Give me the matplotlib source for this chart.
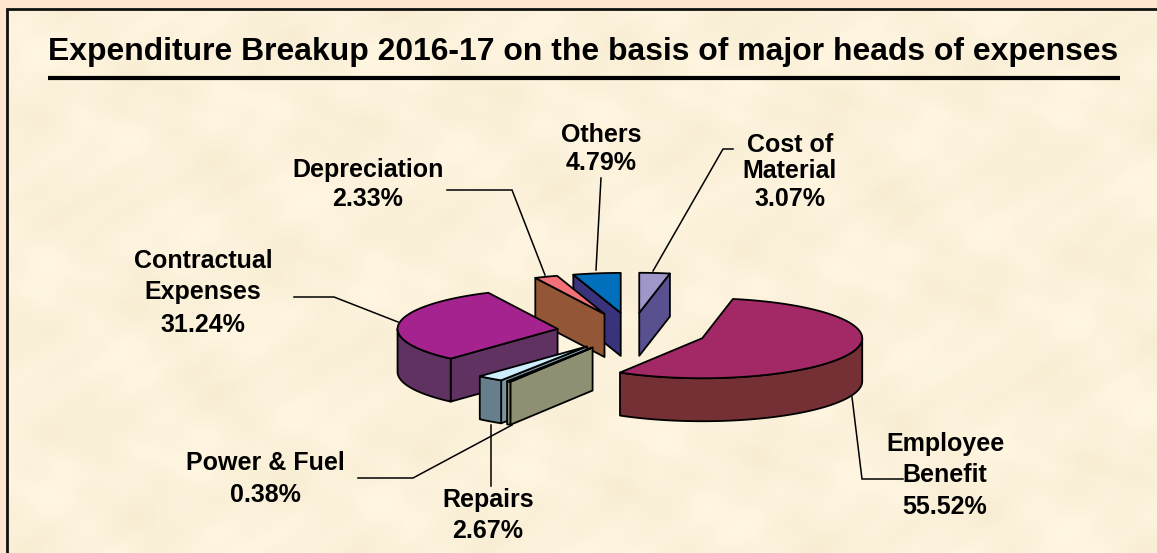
import numpy as np
import matplotlib
matplotlib.use('Agg')
import matplotlib.pyplot as plt

TITLE = "Expenditure Breakup 2016-17 on the basis of major heads of expenses"

# clockwise from 12 o'clock
names = ["Cost of\nMaterial", "Employee\nBenefit", "Power & Fuel", "Repairs",
         "Contractual\nExpenses", "Depreciation", "Others"]
shares = [3.07, 55.52, 0.38, 2.67, 31.24, 2.33, 4.79]

top_colors = ["#9F97C9", "#A32866", "#F6F1C4", "#CDEEFC", "#A4238E", "#F47077", "#0070BC"]
side_colors = ["#58508F", "#743035", "#8E8F73", "#667F8D", "#5F3262", "#935636", "#38337A"]
cut_colors = ["#58508F", "#743035", "#8E8F73", "#7A94A2", "#5F3262", "#935636", "#38337A"]

# back to front
draw_order = [0, 6, 5, 4, 3, 2, 1]

# pie layout, in pixels
CX, CY = 632, 331.5
RX, RY = 160, 40
DEPTH = 43
EXPLODE = 0.47

# label lines: centre x and y of each line
label_pos = [
    (790, [142, 169, 197]),
    (945, [442, 473, 505]),
    (265, [461, 493]),
    (488, [498, 528]),
    (203, [258, 289, 322]),
    (368, [167, 197]),
    (601, [133, 161]),
]
leaders = [
    [(733, 149), (723, 149), (653, 271)],
    [(852, 397), (862, 479), (903, 479)],
    [(358, 478), (413, 478), (512, 425)],
    [(491, 425), (491, 486)],
    [(294, 297), (334, 297), (398, 322)],
    [(447, 190), (512, 190), (545, 275)],
    [(601, 178), (596, 270)],
]


def rim(cx, cy, ang):
    a = np.radians(ang)
    return cx + RX * np.sin(a), cy - RY * np.cos(a)


def draw_slice(ax, a0, a1, top, side, cut):
    mid = (a0 + a1) / 2
    cx, cy = rim(CX, CY, mid)
    cx, cy = CX + EXPLODE * (cx - CX), CY + EXPLODE * (cy - CY)
    edge = dict(edgecolor='black', linewidth=1.3, joinstyle='round')

    # radial cut faces that look towards the viewer
    s0, s1 = np.sin(np.radians(a0)), np.sin(np.radians(a1))
    for ang, show in ((a0, s0 < -1e-6), (a1, s1 > 1e-6)):
        if show:
            x, y = rim(cx, cy, ang)
            ax.fill([cx, x, x, cx], [cy, y, y + DEPTH, cy + DEPTH], facecolor=cut, **edge)

    # outer wall, front half only
    lo, hi = max(a0, 90), min(a1, 270)
    if lo < hi:
        t = np.linspace(lo, hi, 80)
        x, y = rim(cx, cy, t)
        ax.fill(np.r_[x, x[::-1]], np.r_[y, y[::-1] + DEPTH], facecolor=side, **edge)

    t = np.linspace(a0, a1, 120)
    x, y = rim(cx, cy, t)
    ax.fill(np.r_[cx, x], np.r_[cy, y], facecolor=top, **edge)


def parchment():
    # soft mottling for the panel background
    yy, xx = np.mgrid[0:544, 0:1150]
    m = (np.sin(xx / 37 + yy / 71) * np.sin(yy / 23 - xx / 90)
         + 0.6 * np.sin(xx / 13 + 2 * np.sin(yy / 29)) * np.sin(yy / 11 + xx / 53))
    base = np.array([252, 242, 219], dtype=float)
    tint = np.array([2.5, 3.0, 5.0])
    return (np.clip(base + m[..., None] * tint, 0, 255)) / 255


def main():
    fig = plt.figure(figsize=(11.57, 5.53), dpi=100, facecolor='#FDE5D0')
    ax = fig.add_axes([0, 0, 1, 1])

    ax.imshow(parchment(), extent=(7, 1157, 553, 9), aspect='auto', interpolation='bilinear')
    ax.set_xlim(0, 1157)
    ax.set_ylim(553, 0)
    ax.axis('off')

    # panel border
    ax.plot([1157, 7, 7], [9, 9, 553], color='#111111', linewidth=2, solid_joinstyle='miter')

    ax.text(48, 60, TITLE, fontsize=22.95, fontweight='bold', family='Liberation Sans',
            ha='left', va='baseline', color='black')
    ax.plot([48, 1120], [78, 78], color='black', linewidth=3, solid_capstyle='butt')

    edges = np.r_[0, np.cumsum(shares)] * 3.6 / (sum(shares) / 100)
    for i in draw_order:
        draw_slice(ax, edges[i], edges[i + 1], top_colors[i], side_colors[i], cut_colors[i])

    for pts in leaders:
        xs, ys = zip(*pts)
        ax.plot(xs, ys, color='black', linewidth=1.1, solid_joinstyle='miter')

    for name, share, (x, ys) in zip(names, shares, label_pos):
        lines = name.split("\n") + [f"{share:.2f}%"]
        for line, y in zip(lines, ys):
            ax.text(x, y, line, fontsize=18, fontweight='bold', family='Liberation Sans',
                    ha='center', va='center_baseline', color='black')

    fig.savefig('out.png', dpi=100, facecolor=fig.get_facecolor())


if __name__ == '__main__':
    main()
